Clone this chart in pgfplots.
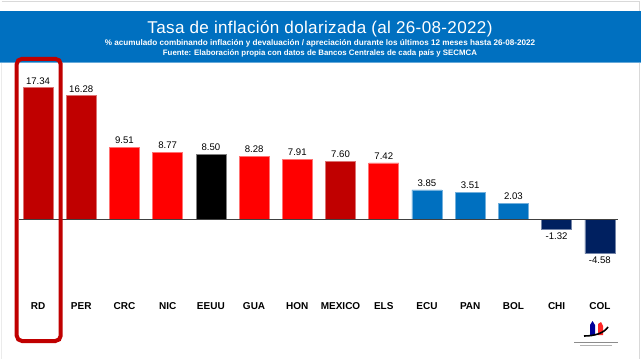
\documentclass[border=0pt]{standalone}
\usepackage{pgfplots}
\pgfplotsset{compat=1.18}
\usepackage{fontspec}
\setmainfont{Liberation Sans}
\definecolor{banner}{HTML}{0070C0}
\definecolor{dred}{HTML}{C00000}
\definecolor{bred}{HTML}{FF0000}
\definecolor{bblue}{HTML}{0070C0}
\definecolor{navy}{HTML}{002060}
\definecolor{boxred}{HTML}{C00000}
\newfontfamily\titlefont[LetterSpace=2]{Liberation Sans}
\begin{document}
\begin{tikzpicture}
\begin{scope}[x=0.75pt,y=-0.75pt,shift={(0,270pt)}]
\fill[white] (0,0) rectangle (641,360);
\draw[black!15, line width=0.75pt] (1.5,1.5) -- (639,1.5) -- (639,359);
\draw[black!8, line width=0.75pt] (1.5,63) -- (1.5,359);
\fill[banner] (0,11) rectangle (641,62.5);
\draw[banner!60!white, line width=0.5pt] (0,62.5) -- (641,62.5);
\node[white, inner sep=0pt, font=\titlefont\fontsize{12.8}{14}\selectfont] at (320,29) {Tasa de inflación dolarizada (al 26-08-2022)};
\node[white, inner sep=0pt, font=\bfseries\fontsize{6.1}{7}\selectfont] at (320,43.5) {\% acumulado combinando inflación y devaluación / apreciación durante los últimos 12 meses hasta 26-08-2022};
\node[white, inner sep=0pt, font=\bfseries\fontsize{5.9}{7}\selectfont] at (320,53) {Fuente: Elaboración propia con datos de Bancos Centrales de cada país y SECMCA};
\end{scope}
\begin{axis}[
  at={(14.25pt,45pt)}, anchor=south west,
  scale only axis, width=449.25pt, height=174.3pt,
  xmin=-0.44, xmax=13.42, ymin=-10.7, ymax=20,
  axis line style={draw=none},
  ytick=\empty,
  xtick={0,...,13},
  xticklabels={RD,PER,CRC,NIC,EEUU,GUA,HON,MEXICO,ELS,ECU,PAN,BOL,CHI,COL},
  major tick length=0pt,
  xticklabel style={font=\bfseries\fontsize{7.5}{9}\selectfont, inner sep=2pt},
  /pgf/number format/assume math mode=true,
  ybar, bar width=22.5pt,
  clip=false,
  nodes near coords={\pgfmathprintnumber[fixed,fixed zerofill,precision=2,assume math mode=true]{\pgfplotspointmeta}},
  every node near coord/.append style={font=\fontsize{7.2}{8}\selectfont, text=black, inner sep=2.5pt},
]
\addplot[bar shift=0pt, fill=dred, draw=dred!55!white, line width=0.4pt] coordinates {(0,17.34) (1,16.28) (7,7.60)};
\addplot[bar shift=0pt, fill=bred, draw=bred!55!white, line width=0.4pt] coordinates {(2,9.51) (3,8.77) (5,8.28) (6,7.91) (8,7.42)};
\addplot[bar shift=0pt, fill=black, draw=black!50, line width=0.4pt] coordinates {(4,8.50)};
\addplot[bar shift=0pt, fill=bblue, draw=bblue!55!white, line width=0.4pt] coordinates {(9,3.85) (10,3.51) (11,2.03)};
\addplot[bar shift=0pt, fill=navy, draw=navy!55!white, line width=0.4pt] coordinates {(12,-1.32) (13,-4.58)};
\draw[black!75, line width=0.75pt] (axis cs:-0.44,0) -- (axis cs:13.42,0);
\end{axis}
\begin{scope}[x=0.75pt,y=-0.75pt,shift={(0,270pt)}]
\draw[boxred, line width=3pt, rounded corners=4pt] (16.7,58.8) rectangle (60.7,341);
% logo
\fill[blue!60!black] (590,335) -- (590,325) -- (592.5,321) -- (595,325) -- (595,335) -- cycle;
\fill[red!85!white] (598,335) -- (598,324) -- (601,322) -- (603,326) -- (603,335) -- cycle;
\draw[black, line width=1.2pt] (584,336) .. controls (595,336) and (604,333) .. (608,327);
\draw[black!45, line width=0.5pt] (574,342) -- (618,342);
\draw[black!30, line width=0.4pt] (580,345) -- (612,345);
\end{scope}
\pgfresetboundingbox
\useasboundingbox (0,0) rectangle (480.75pt,270pt);
\end{tikzpicture}
\end{document}
